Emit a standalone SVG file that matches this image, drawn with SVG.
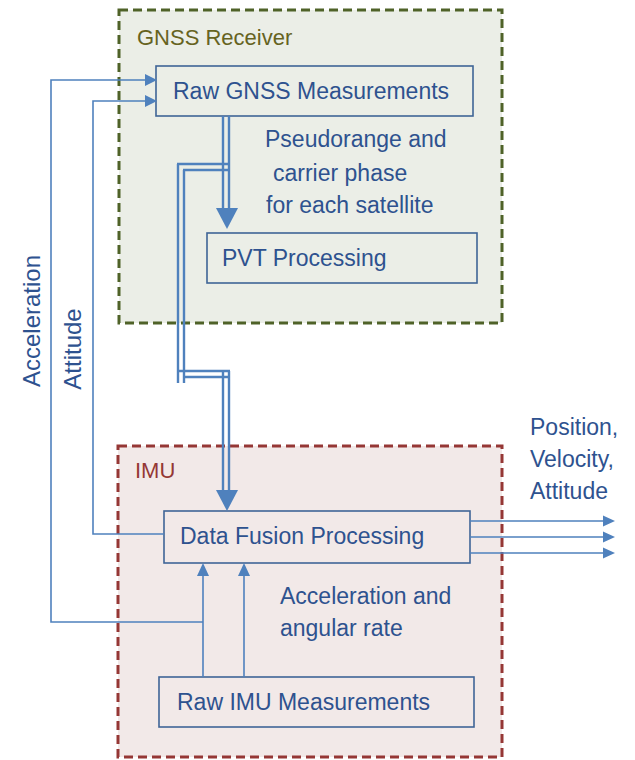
<svg xmlns="http://www.w3.org/2000/svg" width="635" height="760" viewBox="0 0 635 760">
<style>
text{font-family:"Liberation Sans",Arial,sans-serif;font-size:23px;fill:#2E528F}
.box{fill:none;stroke:#3F6496;stroke-width:1.6}
.ln{fill:none;stroke:#4F81BD;stroke-width:1.6}
.dbl{fill:none;stroke:#4F81BD;stroke-width:2.4}
.ah{fill:#4F81BD}
</style>
<rect width="635" height="760" fill="#ffffff"/>
<g id="gnss-receiver">
<rect x="119" y="10" width="383" height="313" fill="#EBEEE7" stroke="#4F6228" stroke-width="3" stroke-dasharray="9,5"/>
<text x="137" y="45" style="fill:#66631F;font-size:22px">GNSS Receiver</text>
</g>
<g id="imu">
<rect x="118" y="446" width="384" height="311" fill="#F2E9E8" stroke="#953735" stroke-width="3" stroke-dasharray="9,5"/>
<text x="135" y="478" style="fill:#953735;font-size:22px">IMU</text>
</g>
<g id="raw-gnss">
<rect class="box" x="156" y="66" width="317" height="50"/>
<text x="173" y="99">Raw GNSS Measurements</text>
</g>
<g id="pvt">
<rect class="box" x="207" y="233" width="270" height="50"/>
<text x="222" y="266">PVT Processing</text>
</g>
<g id="data-fusion">
<rect class="box" x="164" y="511" width="306" height="52"/>
<text x="180" y="544">Data Fusion Processing</text>
</g>
<g id="raw-imu">
<rect class="box" x="159" y="677" width="315" height="50"/>
<text x="177" y="710">Raw IMU Measurements</text>
</g>
<g id="connectors">
<path class="dbl" d="M223,116V210M229,116V210"/>
<polygon class="ah" points="216,208 238,208 227,229"/>
<path class="dbl" d="M177,164H229M183,170H229M178,164V383M184,170V383M178,371H230M184,377H230M223,371V492M229,371V492"/>
<polygon class="ah" points="216,490 238,490 227,511"/>
<path class="ln" d="M203,677V574M244,677V574"/>
<polygon class="ah" points="197,576 209,576 203,563"/>
<polygon class="ah" points="238,576 250,576 244,563"/>
<path class="ln" d="M203,622H51V80H146"/>
<polygon class="ah" points="145,74 157,80 145,86"/>
<path class="ln" d="M164,534H93V101H146"/>
<polygon class="ah" points="145,95 157,101 145,107"/>
<path class="ln" d="M470,521H604M470,537H604M470,553H604"/>
<polygon class="ah" points="603,515.5 615,521 603,526.5"/>
<polygon class="ah" points="603,531.5 615,537 603,542.5"/>
<polygon class="ah" points="603,547.5 615,553 603,558.5"/>
</g>
<g id="labels">
<text x="265" y="147">Pseudorange and</text>
<text x="273" y="181">carrier phase</text>
<text x="266" y="213">for each satellite</text>
<text x="280" y="604">Acceleration and</text>
<text x="280" y="636">angular rate</text>
<text x="530" y="435">Position,</text>
<text x="530" y="467">Velocity,</text>
<text x="530" y="499">Attitude</text>
<text transform="translate(40,321) rotate(-90)" text-anchor="middle" style="font-size:24px">Acceleration</text>
<text transform="translate(81,349) rotate(-90)" text-anchor="middle" style="font-size:24px">Attitude</text>
</g>
</svg>
